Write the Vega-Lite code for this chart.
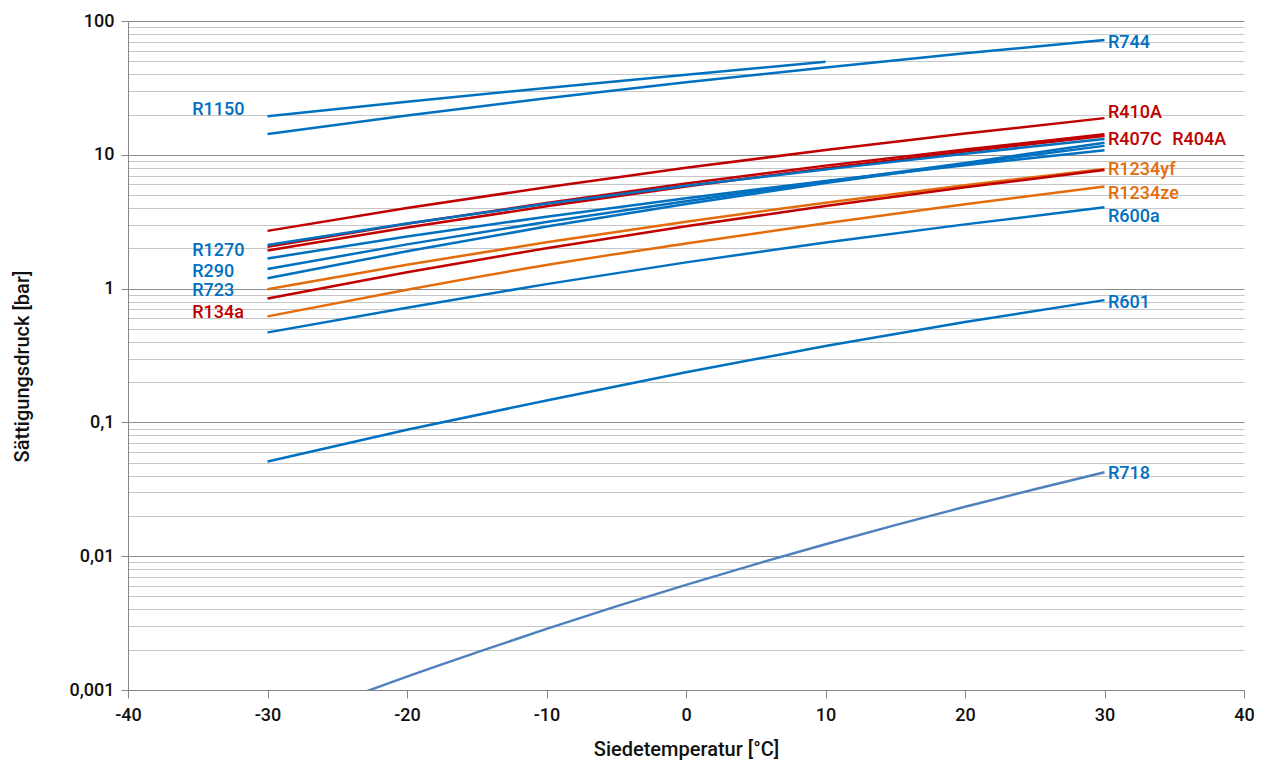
{
  "$schema": "https://vega.github.io/schema/vega-lite/v6.json",
  "width": 1116,
  "height": 669,
  "autosize": {"type": "none"},
  "padding": {"left": 128, "top": 21, "right": 21, "bottom": 75},
  "background": "white",
  "config": {
    "view": {"stroke": null},
    "font": "Roboto, sans-serif"
  },
  "datasets": {
    "kurven": [
      {"Kältemittel": "R744", "Gruppe": "natürlich", "T": -30, "p": 14.28},
      {"Kältemittel": "R744", "Gruppe": "natürlich", "T": -20, "p": 19.7},
      {"Kältemittel": "R744", "Gruppe": "natürlich", "T": -10, "p": 26.5},
      {"Kältemittel": "R744", "Gruppe": "natürlich", "T": 0, "p": 34.85},
      {"Kältemittel": "R744", "Gruppe": "natürlich", "T": 10, "p": 45.0},
      {"Kältemittel": "R744", "Gruppe": "natürlich", "T": 20, "p": 57.3},
      {"Kältemittel": "R744", "Gruppe": "natürlich", "T": 30, "p": 72.1},
      {"Kältemittel": "R1150", "Gruppe": "natürlich", "T": -30, "p": 19.4},
      {"Kältemittel": "R1150", "Gruppe": "natürlich", "T": -20, "p": 24.9},
      {"Kältemittel": "R1150", "Gruppe": "natürlich", "T": -10, "p": 31.6},
      {"Kältemittel": "R1150", "Gruppe": "natürlich", "T": 0, "p": 39.7},
      {"Kältemittel": "R1150", "Gruppe": "natürlich", "T": 10, "p": 49.6},
      {"Kältemittel": "R410A", "Gruppe": "HFKW", "T": -30, "p": 2.7},
      {"Kältemittel": "R410A", "Gruppe": "HFKW", "T": -20, "p": 4.0},
      {"Kältemittel": "R410A", "Gruppe": "HFKW", "T": -10, "p": 5.73},
      {"Kältemittel": "R410A", "Gruppe": "HFKW", "T": 0, "p": 7.99},
      {"Kältemittel": "R410A", "Gruppe": "HFKW", "T": 10, "p": 10.86},
      {"Kältemittel": "R410A", "Gruppe": "HFKW", "T": 20, "p": 14.4},
      {"Kältemittel": "R410A", "Gruppe": "HFKW", "T": 30, "p": 18.8},
      {"Kältemittel": "R404A", "Gruppe": "HFKW", "T": -30, "p": 2.05},
      {"Kältemittel": "R404A", "Gruppe": "HFKW", "T": -20, "p": 3.05},
      {"Kältemittel": "R404A", "Gruppe": "HFKW", "T": -10, "p": 4.36},
      {"Kältemittel": "R404A", "Gruppe": "HFKW", "T": 0, "p": 6.1},
      {"Kältemittel": "R404A", "Gruppe": "HFKW", "T": 10, "p": 8.3},
      {"Kältemittel": "R404A", "Gruppe": "HFKW", "T": 20, "p": 10.96},
      {"Kältemittel": "R404A", "Gruppe": "HFKW", "T": 30, "p": 14.25},
      {"Kältemittel": "R407C", "Gruppe": "HFKW", "T": -30, "p": 1.93},
      {"Kältemittel": "R407C", "Gruppe": "HFKW", "T": -20, "p": 2.86},
      {"Kältemittel": "R407C", "Gruppe": "HFKW", "T": -10, "p": 4.12},
      {"Kältemittel": "R407C", "Gruppe": "HFKW", "T": 0, "p": 5.8},
      {"Kältemittel": "R407C", "Gruppe": "HFKW", "T": 10, "p": 7.95},
      {"Kältemittel": "R407C", "Gruppe": "HFKW", "T": 20, "p": 10.6},
      {"Kältemittel": "R407C", "Gruppe": "HFKW", "T": 30, "p": 13.8},
      {"Kältemittel": "R1270", "Gruppe": "natürlich", "T": -30, "p": 2.12},
      {"Kältemittel": "R1270", "Gruppe": "natürlich", "T": -20, "p": 3.07},
      {"Kältemittel": "R1270", "Gruppe": "natürlich", "T": -10, "p": 4.3},
      {"Kältemittel": "R1270", "Gruppe": "natürlich", "T": 0, "p": 5.86},
      {"Kältemittel": "R1270", "Gruppe": "natürlich", "T": 10, "p": 7.77},
      {"Kältemittel": "R1270", "Gruppe": "natürlich", "T": 20, "p": 10.2},
      {"Kältemittel": "R1270", "Gruppe": "natürlich", "T": 30, "p": 13.1},
      {"Kältemittel": "R290", "Gruppe": "natürlich", "T": -30, "p": 1.68},
      {"Kältemittel": "R290", "Gruppe": "natürlich", "T": -20, "p": 2.45},
      {"Kältemittel": "R290", "Gruppe": "natürlich", "T": -10, "p": 3.45},
      {"Kältemittel": "R290", "Gruppe": "natürlich", "T": 0, "p": 4.74},
      {"Kältemittel": "R290", "Gruppe": "natürlich", "T": 10, "p": 6.36},
      {"Kältemittel": "R290", "Gruppe": "natürlich", "T": 20, "p": 8.36},
      {"Kältemittel": "R290", "Gruppe": "natürlich", "T": 30, "p": 10.8},
      {"Kältemittel": "R723", "Gruppe": "natürlich", "T": -30, "p": 1.4},
      {"Kältemittel": "R723", "Gruppe": "natürlich", "T": -20, "p": 2.14},
      {"Kältemittel": "R723", "Gruppe": "natürlich", "T": -10, "p": 3.15},
      {"Kältemittel": "R723", "Gruppe": "natürlich", "T": 0, "p": 4.5},
      {"Kältemittel": "R723", "Gruppe": "natürlich", "T": 10, "p": 6.3},
      {"Kältemittel": "R723", "Gruppe": "natürlich", "T": 20, "p": 8.7},
      {"Kältemittel": "R723", "Gruppe": "natürlich", "T": 30, "p": 12.3},
      {"Kältemittel": "R717", "Gruppe": "natürlich", "T": -30, "p": 1.195},
      {"Kältemittel": "R717", "Gruppe": "natürlich", "T": -20, "p": 1.9},
      {"Kältemittel": "R717", "Gruppe": "natürlich", "T": -10, "p": 2.91},
      {"Kältemittel": "R717", "Gruppe": "natürlich", "T": 0, "p": 4.29},
      {"Kältemittel": "R717", "Gruppe": "natürlich", "T": 10, "p": 6.15},
      {"Kältemittel": "R717", "Gruppe": "natürlich", "T": 20, "p": 8.57},
      {"Kältemittel": "R717", "Gruppe": "natürlich", "T": 30, "p": 11.67},
      {"Kältemittel": "R1234yf", "Gruppe": "HFO", "T": -30, "p": 0.99},
      {"Kältemittel": "R1234yf", "Gruppe": "HFO", "T": -20, "p": 1.51},
      {"Kältemittel": "R1234yf", "Gruppe": "HFO", "T": -10, "p": 2.22},
      {"Kältemittel": "R1234yf", "Gruppe": "HFO", "T": 0, "p": 3.16},
      {"Kältemittel": "R1234yf", "Gruppe": "HFO", "T": 10, "p": 4.39},
      {"Kältemittel": "R1234yf", "Gruppe": "HFO", "T": 20, "p": 5.92},
      {"Kältemittel": "R1234yf", "Gruppe": "HFO", "T": 30, "p": 7.83},
      {"Kältemittel": "R134a", "Gruppe": "HFKW", "T": -30, "p": 0.844},
      {"Kältemittel": "R134a", "Gruppe": "HFKW", "T": -20, "p": 1.327},
      {"Kältemittel": "R134a", "Gruppe": "HFKW", "T": -10, "p": 2.006},
      {"Kältemittel": "R134a", "Gruppe": "HFKW", "T": 0, "p": 2.928},
      {"Kältemittel": "R134a", "Gruppe": "HFKW", "T": 10, "p": 4.146},
      {"Kältemittel": "R134a", "Gruppe": "HFKW", "T": 20, "p": 5.717},
      {"Kältemittel": "R134a", "Gruppe": "HFKW", "T": 30, "p": 7.702},
      {"Kältemittel": "R1234ze", "Gruppe": "HFO", "T": -30, "p": 0.62},
      {"Kältemittel": "R1234ze", "Gruppe": "HFO", "T": -20, "p": 0.98},
      {"Kältemittel": "R1234ze", "Gruppe": "HFO", "T": -10, "p": 1.5},
      {"Kältemittel": "R1234ze", "Gruppe": "HFO", "T": 0, "p": 2.17},
      {"Kältemittel": "R1234ze", "Gruppe": "HFO", "T": 10, "p": 3.08},
      {"Kältemittel": "R1234ze", "Gruppe": "HFO", "T": 20, "p": 4.27},
      {"Kältemittel": "R1234ze", "Gruppe": "HFO", "T": 30, "p": 5.8},
      {"Kältemittel": "R600a", "Gruppe": "natürlich", "T": -30, "p": 0.47},
      {"Kältemittel": "R600a", "Gruppe": "natürlich", "T": -20, "p": 0.72},
      {"Kältemittel": "R600a", "Gruppe": "natürlich", "T": -10, "p": 1.08},
      {"Kältemittel": "R600a", "Gruppe": "natürlich", "T": 0, "p": 1.57},
      {"Kältemittel": "R600a", "Gruppe": "natürlich", "T": 10, "p": 2.21},
      {"Kältemittel": "R600a", "Gruppe": "natürlich", "T": 20, "p": 3.02},
      {"Kältemittel": "R600a", "Gruppe": "natürlich", "T": 30, "p": 4.05},
      {"Kältemittel": "R601", "Gruppe": "natürlich", "T": -30, "p": 0.051},
      {"Kältemittel": "R601", "Gruppe": "natürlich", "T": -20, "p": 0.088},
      {"Kältemittel": "R601", "Gruppe": "natürlich", "T": -10, "p": 0.146},
      {"Kältemittel": "R601", "Gruppe": "natürlich", "T": 0, "p": 0.237},
      {"Kältemittel": "R601", "Gruppe": "natürlich", "T": 10, "p": 0.373},
      {"Kältemittel": "R601", "Gruppe": "natürlich", "T": 20, "p": 0.562},
      {"Kältemittel": "R601", "Gruppe": "natürlich", "T": 30, "p": 0.82},
      {"Kältemittel": "R718", "Gruppe": "Wasser", "T": -30, "p": 0.00051},
      {"Kältemittel": "R718", "Gruppe": "Wasser", "T": -25, "p": 0.00081},
      {"Kältemittel": "R718", "Gruppe": "Wasser", "T": -20, "p": 0.00126},
      {"Kältemittel": "R718", "Gruppe": "Wasser", "T": -15, "p": 0.00191},
      {"Kältemittel": "R718", "Gruppe": "Wasser", "T": -10, "p": 0.00286},
      {"Kältemittel": "R718", "Gruppe": "Wasser", "T": -5, "p": 0.00422},
      {"Kältemittel": "R718", "Gruppe": "Wasser", "T": 0, "p": 0.00611},
      {"Kältemittel": "R718", "Gruppe": "Wasser", "T": 5, "p": 0.00873},
      {"Kältemittel": "R718", "Gruppe": "Wasser", "T": 10, "p": 0.01228},
      {"Kältemittel": "R718", "Gruppe": "Wasser", "T": 15, "p": 0.01706},
      {"Kältemittel": "R718", "Gruppe": "Wasser", "T": 20, "p": 0.02339},
      {"Kältemittel": "R718", "Gruppe": "Wasser", "T": 25, "p": 0.03169},
      {"Kältemittel": "R718", "Gruppe": "Wasser", "T": 30, "p": 0.04246}
    ],
    "beschriftung": [
      {"Text": "R1150", "Gruppe": "natürlich", "T": -35.4, "p": 21.6},
      {"Text": "R1270", "Gruppe": "natürlich", "T": -35.4, "p": 1.91},
      {"Text": "R290", "Gruppe": "natürlich", "T": -35.4, "p": 1.33},
      {"Text": "R723", "Gruppe": "natürlich", "T": -35.4, "p": 0.96},
      {"Text": "R134a", "Gruppe": "HFKW", "T": -35.4, "p": 0.658},
      {"Text": "R744", "Gruppe": "natürlich", "T": 30.25, "p": 68.5},
      {"Text": "R410A", "Gruppe": "HFKW", "T": 30.25, "p": 20.5},
      {"Text": "R407C", "Gruppe": "HFKW", "T": 30.25, "p": 12.9},
      {"Text": "R404A", "Gruppe": "HFKW", "T": 34.85, "p": 12.9},
      {"Text": "R1234yf", "Gruppe": "HFO", "T": 30.25, "p": 7.7},
      {"Text": "R1234ze", "Gruppe": "HFO", "T": 30.25, "p": 5.09},
      {"Text": "R600a", "Gruppe": "natürlich", "T": 30.25, "p": 3.43},
      {"Text": "R601", "Gruppe": "natürlich", "T": 30.25, "p": 0.78},
      {"Text": "R718", "Gruppe": "natürlich", "T": 30.25, "p": 0.0411}
    ]
  },
  "layer": [
    {
      "data": {"name": "kurven"},
      "mark": {"type": "line", "strokeWidth": 2.5, "interpolate": "monotone", "clip": true},
      "encoding": {
        "x": {
          "field": "T", "type": "quantitative",
          "scale": {"domain": [-40, 40], "nice": false, "zero": false},
          "axis": {
            "title": "Siedetemperatur [°C]",
            "values": [-40, -30, -20, -10, 0, 10, 20, 30, 40],
            "labelExpr": "toString(datum.value)",
            "grid": false,
            "domainColor": "#868686",
            "domainWidth": 1,
            "tickColor": "#868686",
            "tickSize": 8,
            "labelPadding": 8,
            "labelFontSize": 18,
            "labelFontWeight": 500,
            "labelColor": "#111111",
            "labelFlush": false,
            "titleFontSize": 20,
            "titleFontWeight": 500,
            "titleColor": "#111111",
            "titlePadding": 15
          }
        },
        "y": {
          "field": "p", "type": "quantitative",
          "scale": {"type": "log", "domain": [0.001, 100], "nice": false},
          "axis": {
            "title": "Sättigungsdruck [bar]",
            "values": [0.001, 0.002, 0.003, 0.004, 0.005, 0.006, 0.007, 0.008, 0.009,
                       0.01, 0.02, 0.03, 0.04, 0.05, 0.06, 0.07, 0.08, 0.09,
                       0.1, 0.2, 0.3, 0.4, 0.5, 0.6, 0.7, 0.8, 0.9,
                       1, 2, 3, 4, 5, 6, 7, 8, 9,
                       10, 20, 30, 40, 50, 60, 70, 80, 90, 100],
            "grid": true,
            "gridColor": {"condition": {"test": "abs(log(datum.value)/LN10 - round(log(datum.value)/LN10)) < 0.000001", "value": "#8c8c8c"}, "value": "#c6c6c6"},
            "gridWidth": 1,
            "domainColor": "#868686",
            "tickColor": {"condition": {"test": "abs(log(datum.value)/LN10 - round(log(datum.value)/LN10)) < 0.000001", "value": "#868686"}, "value": "transparent"},
            "tickSize": 7,
            "labelExpr": "abs(log(datum.value)/LN10 - round(log(datum.value)/LN10)) < 0.000001 ? replace(format(datum.value, '~g'), '.', ',') : ''",
            "labelFontSize": 18,
            "labelFontWeight": 500,
            "labelColor": "#111111",
            "labelPadding": 7,
            "labelFlush": false,
            "labelOverlap": false,
            "titleFontSize": 20,
            "titleFontWeight": 500,
            "titleColor": "#111111",
            "titleX": -106,
            "titleY": 345,
            "titleAngle": -90,
            "titleAlign": "center",
            "titleBaseline": "middle"
          }
        },
        "color": {
          "field": "Gruppe", "type": "nominal",
          "scale": {"domain": ["natürlich", "HFKW", "HFO", "Wasser"], "range": ["#0070C0", "#C00000", "#E46C0A", "#4F81BD"]},
          "legend": null
        },
        "detail": {"field": "Kältemittel"}
      }
    },
    {
      "data": {"name": "beschriftung"},
      "mark": {"type": "text", "align": "left", "baseline": "middle", "fontSize": 18, "fontWeight": 500},
      "encoding": {
        "x": {"field": "T", "type": "quantitative"},
        "y": {"field": "p", "type": "quantitative"},
        "text": {"field": "Text"},
        "color": {"field": "Gruppe", "type": "nominal", "legend": null}
      }
    }
  ]
}
